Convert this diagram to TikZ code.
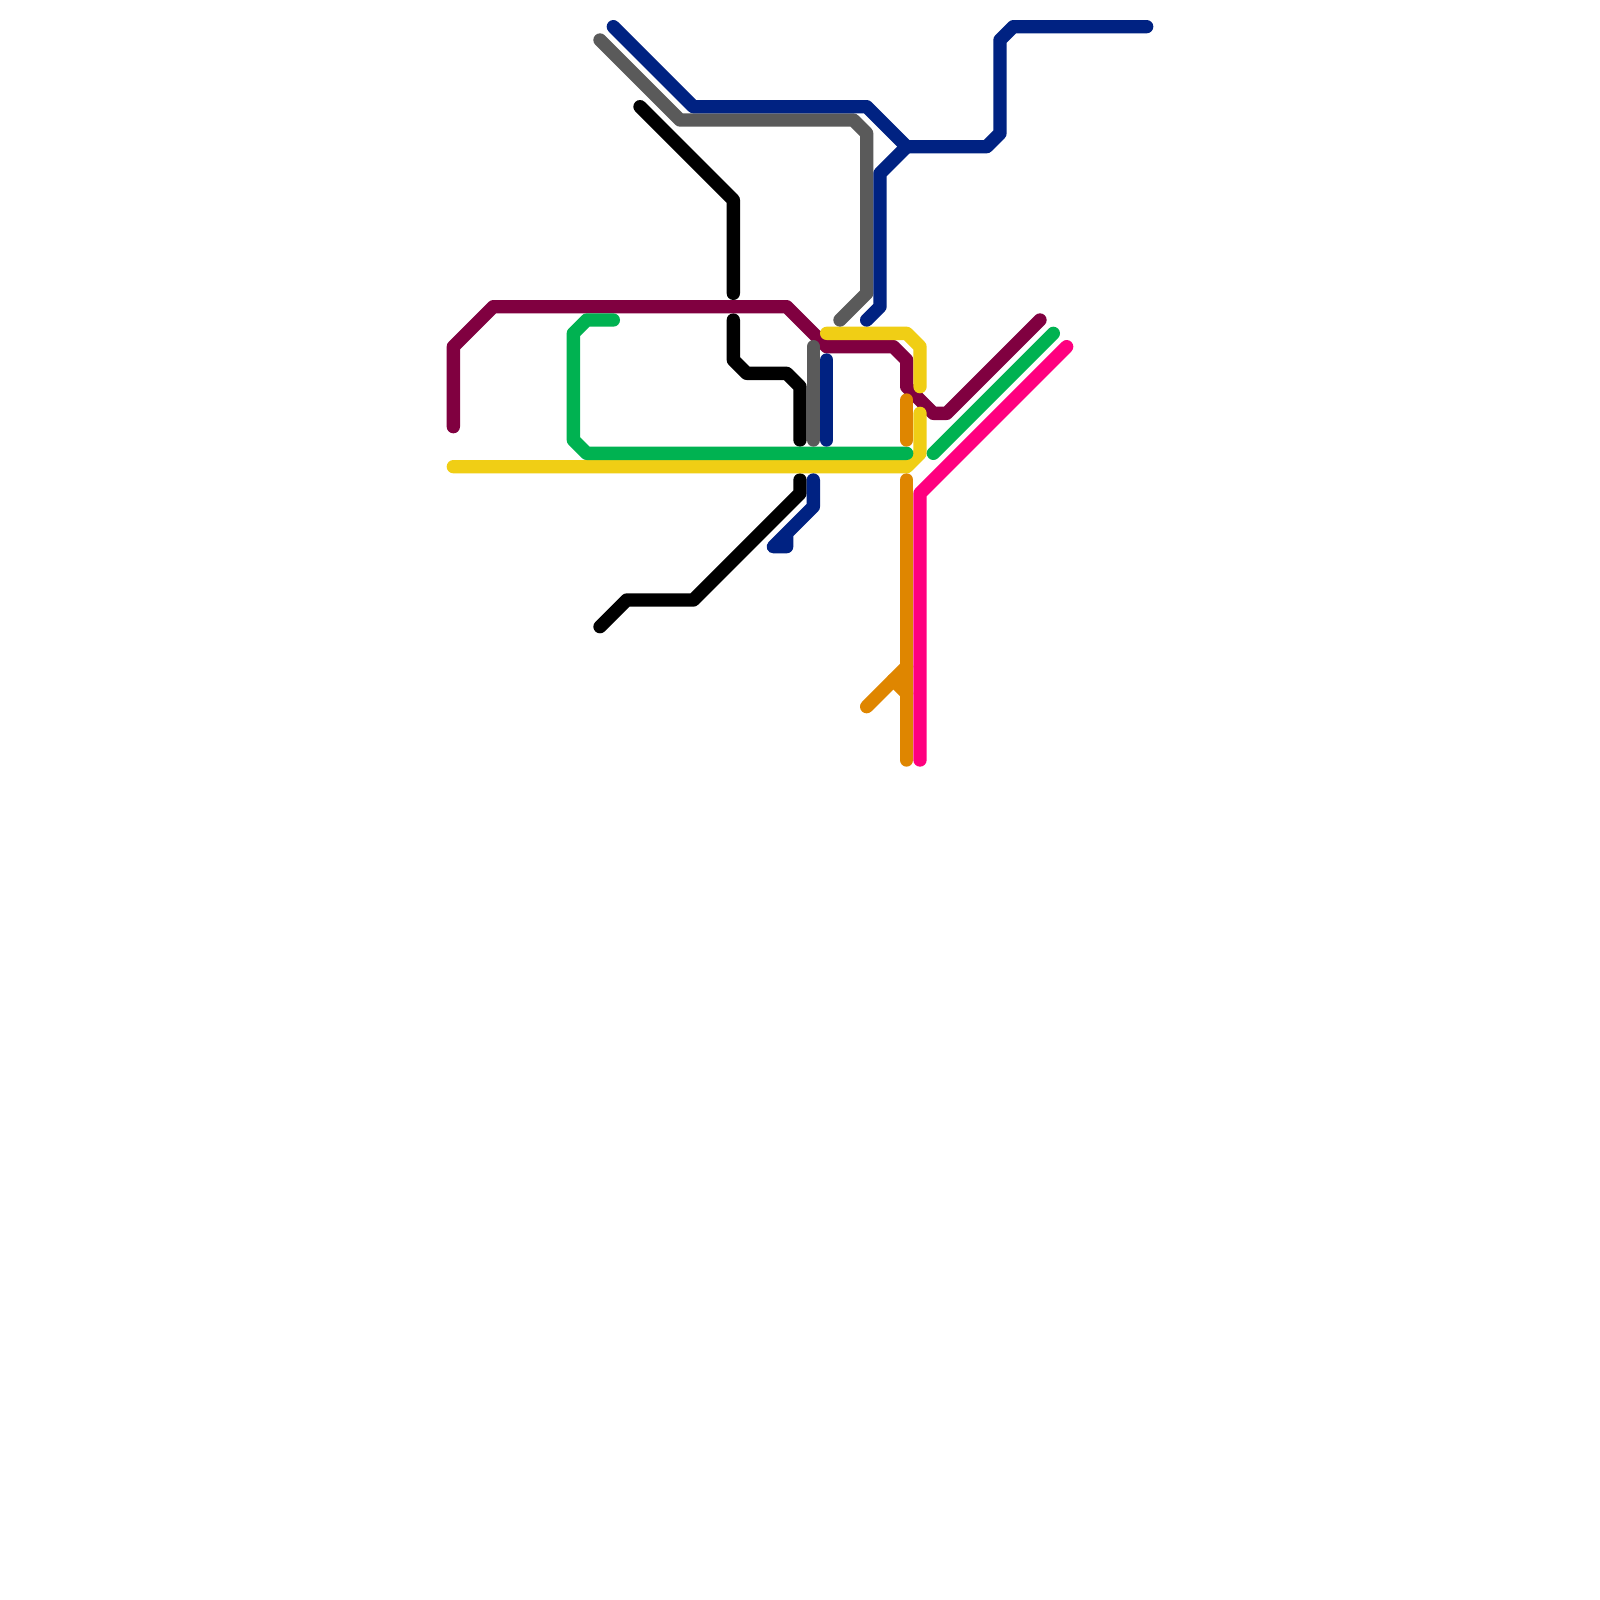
\documentclass[tikz,border=0pt]{standalone}
\definecolor{cmaroon}{HTML}{800040}
\definecolor{cnavy}{HTML}{002282}
\definecolor{cgrey}{HTML}{5A5A5A}
\definecolor{cgreen}{HTML}{00B251}
\definecolor{cyellow}{HTML}{F0CE15}
\definecolor{corange}{HTML}{DF8600}
\definecolor{cpink}{HTML}{FF007F}
\tikzset{route/.style={line width=1mm,line cap=round,line join=round}}
\begin{document}
\begin{tikzpicture}[x=0.1cm,y=-0.1cm]
\useasboundingbox (0,0) rectangle (120,120);
\fill[white] (0,0) rectangle (120,120);
% black line
\draw[route,black] (48,8) -- (55,15) -- (55,22);
\draw[route,black] (55,24) -- (55,27) -- (56,28) -- (59,28) -- (60,29) -- (60,33);
\draw[route,black] (60,36) -- (60,37) -- (52,45) -- (47,45) -- (45,47);
% maroon line
\draw[route,cmaroon] (34,32) -- (34,26) -- (37,23) -- (59,23) -- (62,26) -- (67,26) -- (68,27) -- (68,29) -- (70,31) -- (71,31) -- (78,24);
% yellow line
\draw[route,cyellow] (34,35) -- (68,35) -- (69,34) -- (69,31);
\draw[route,cyellow] (62,25) -- (68,25) -- (69,26) -- (69,29);
% green line
\draw[route,cgreen] (46,24) -- (44,24) -- (43,25) -- (43,33) -- (44,34) -- (68,34);
\draw[route,cgreen] (70,34) -- (79,25);
% grey line
\draw[route,cgrey] (45,3) -- (51,9) -- (64,9) -- (65,10) -- (65,22) -- (63,24);
\draw[route,cgrey] (61,26) -- (61,33);
% navy line
\draw[route,cnavy] (46,2) -- (52,8) -- (65,8) -- (68,11) -- (74,11) -- (75,10) -- (75,3) -- (76,2) -- (86,2);
\draw[route,cnavy] (68,11) -- (66,13) -- (66,23) -- (65,24);
\draw[route,cnavy] (62,27) -- (62,33);
\draw[route,cnavy] (61,36) -- (61,38) -- (58,41) -- (59,41) -- (59,40);
% orange line
\draw[route,corange] (68,30) -- (68,33);
\draw[route,corange] (68,36) -- (68,57);
\draw[route,corange] (65,53) -- (68,50);
\draw[route,corange] (67,51) -- (68,52);
% pink line
\draw[route,cpink] (80,26) -- (69,37) -- (69,57);
\end{tikzpicture}
\end{document}
